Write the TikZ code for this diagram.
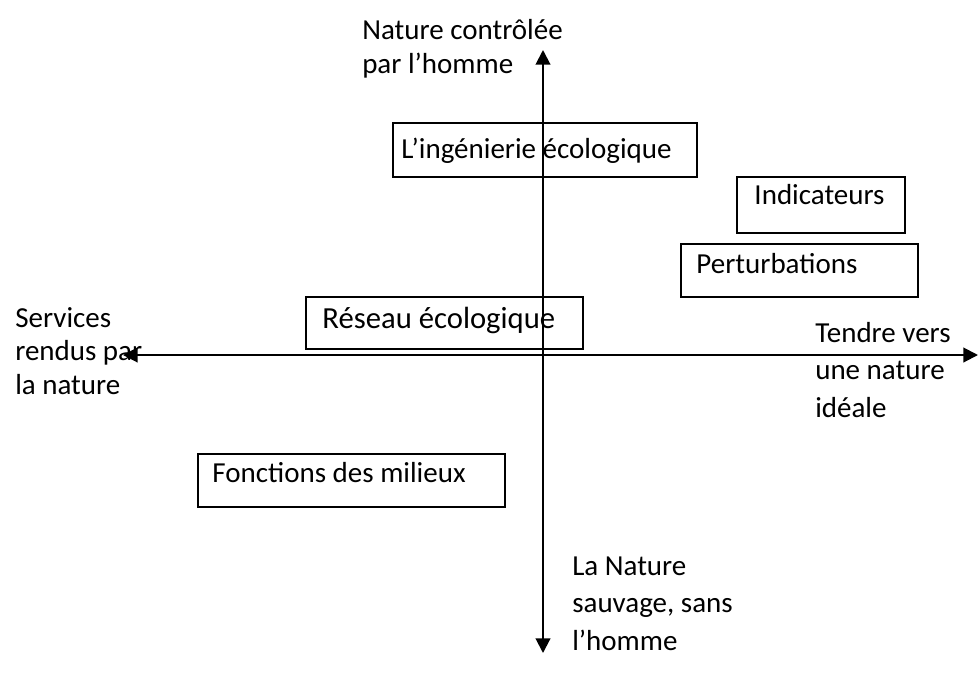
\documentclass[tikz,border=0pt]{standalone}
\usepackage{fontspec}
\setmainfont{Carlito}
\usetikzlibrary{arrows.meta,fit,calc}

\tikzset{
  axis/.style={line width=1.5pt,{Triangle[length=11pt,width=11pt]}-{Triangle[length=11pt,width=11pt]}},
  frame/.style={draw,line width=1.2pt,inner sep=0pt},
  label/.style={inner sep=0pt,anchor=base west,align=left,font=\fontsize{21.75}{25}\selectfont},
  wide/.style={label,font=\fontsize{21.75}{28}\selectfont}
}

\begin{document}
\begin{tikzpicture}[x=0.75pt,y=-0.75pt]
  \useasboundingbox (0,0) rectangle (978,683);

  % axes
  \coordinate (top) at (543,50);
  \coordinate (bottom) at (543,653);
  \coordinate (left) at (123,355);
  \coordinate (right) at (978,355);
  \draw[axis] (bottom) -- (top);
  \draw[axis] (left) -- (right);

  % axis ends (placed at the baseline of the last line)
  \node[label] (controle) at (362,73) {Nature contrôlée\\par l’homme};
  \node[label] (services) at (15,394) {Services\\rendus par\\la nature};
  \node[wide] (ideale) at (815,417) {Tendre vers\\une nature\\idéale};
  \node[wide] (sauvage) at (572,650) {La Nature\\sauvage, sans\\l’homme};

  % boxes
  \node[frame,fit={(393,123) (697,177)}] (inge) {};
  \node[label] at ($(inge.north west)+(9,36)$) {L’ingénierie écologique};
  \node[frame,fit={(737,177) (905,233)}] (indic) {};
  \node[label] at ($(indic.north west)+(18,28)$) {Indicateurs};
  \node[frame,fit={(681,244) (918,297)}] (pert) {};
  \node[label] at ($(pert.north west)+(16,30)$) {Perturbations};
  \node[frame,fit={(306,297) (583,349)}] (reseau) {};
  \node[label,font=\fontsize{23}{28}\selectfont] at ($(reseau.north west)+(17,32)$) {Réseau écologique};
  \node[frame,fit={(198,454) (505,507)}] (fonctions) {};
  \node[label] at ($(fonctions.north west)+(15,29)$) {Fonctions des milieux};
\end{tikzpicture}
\end{document}
